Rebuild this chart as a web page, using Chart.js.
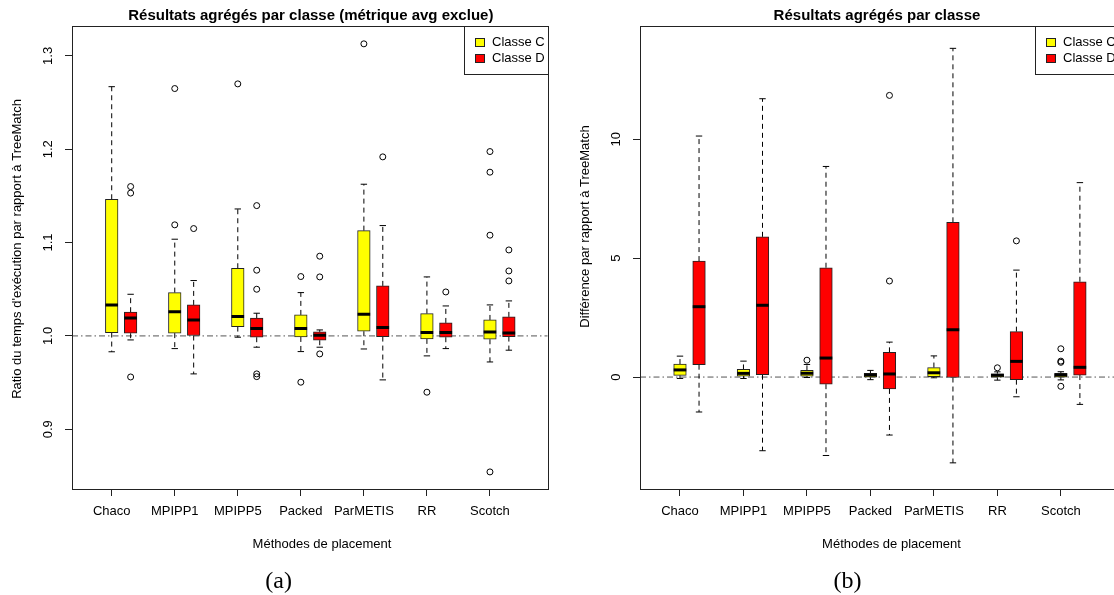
<!DOCTYPE html>
<html>
<head>
<meta charset="utf-8">
<script src="https://cdn.jsdelivr.net/npm/chart.js@4.4.0/dist/chart.umd.min.js"></script>
<style>
  body { margin: 0; background: #fff; width: 1114px; height: 595px; overflow: hidden; position: relative; }
  canvas { position: absolute; top: 0; }
  #ratio { left: 0; }
  #diff { left: 557px; }
</style>
</head>
<body>
<canvas id="ratio" width="557" height="595"></canvas>
<canvas id="diff" width="600" height="595"></canvas>
<script>
const methods = ['Chaco', 'MPIPP1', 'MPIPP5', 'Packed', 'ParMETIS', 'RR', 'Scotch']
const classes = ['Classe C', 'Classe D']
const classColors = ['#ffff00', '#ff0000']

// each row: lower whisker, Q1, median, Q3, upper whisker
const ratioC = [
  [0.983, 1.0036, 1.0332, 1.1464, 1.267],
  [0.9864, 1.003, 1.026, 1.0464, 1.1036],
  [0.9986, 1.010, 1.0207, 1.0725, 1.136],
  [0.9832, 0.9989, 1.0079, 1.0225, 1.0464],
  [0.986, 1.005, 1.0232, 1.1128, 1.1625],
  [0.9786, 0.9968, 1.0036, 1.0239, 1.0632],
  [0.9721, 0.9964, 1.0043, 1.0171, 1.0332]
]
const ratioD = [
  [0.9957, 1.0029, 1.0193, 1.0254, 1.0446],
  [0.9593, 1.0004, 1.0171, 1.0332, 1.0593],
  [0.9879, 0.9986, 1.0079, 1.019, 1.0243],
  [0.9879, 0.9954, 1.0007, 1.0043, 1.0064],
  [0.9529, 0.9993, 1.0089, 1.0536, 1.1182],
  [0.9864, 0.9986, 1.0036, 1.0139, 1.0321],
  [0.9847, 0.9993, 1.0032, 1.0204, 1.0375]
]
const ratioOutC = [[], [1.265, 1.119], [1.270], [1.0636, 0.9504], [1.3129], [0.9397], [1.1975, 1.1754, 1.1079, 0.8543]]
const ratioOutD = [[1.160, 1.153, 0.956], [1.115], [1.1396, 1.0704, 1.050, 0.9593, 0.9564], [1.0854, 1.0632, 0.9807], [1.1918], [1.0471], [1.0921, 1.0696, 1.0589]]
const ratioTicks = [0.9, 1.0, 1.1, 1.2, 1.3]
const ratioTickLabels = ['0.9', '1.0', '1.1', '1.2', '1.3']
const ratioRef = 1

const diffC = [
  [-0.06, 0.07, 0.30, 0.547, 0.88],
  [-0.06, 0.04, 0.155, 0.32, 0.67],
  [-0.02, 0.035, 0.16, 0.28, 0.53],
  [-0.11, -0.01, 0.084, 0.155, 0.28],
  [-0.03, 0.02, 0.18, 0.40, 0.89],
  [-0.13, -0.01, 0.075, 0.14, 0.22],
  [-0.12, -0.01, 0.084, 0.155, 0.224]
]
const diffD = [
  [-1.47, 0.52, 2.96, 4.88, 10.14],
  [-3.10, 0.10, 3.02, 5.90, 11.71],
  [-3.30, -0.30, 0.80, 4.60, 8.86],
  [-2.44, -0.50, 0.13, 1.04, 1.47],
  [-3.61, -0.02, 1.99, 6.51, 13.83],
  [-0.83, -0.11, 0.66, 1.91, 4.50],
  [-1.15, 0.084, 0.41, 4.01, 8.18]
]
const diffOutC = [[], [], [0.71], [], [], [0.39], [1.19, 0.67, 0.62, -0.39]]
const diffOutD = [[], [], [], [11.85, 4.04], [], [5.73], []]
const diffTicks = [0, 5, 10]
const diffTickLabels = ['0', '5', '10']
const diffRef = 0

const xMin = 0.37
const xMax = 7.916

Chart.defaults.font.family = '"Liberation Sans", Arial, sans-serif'
Chart.defaults.font.size = 13
Chart.defaults.color = '#000'

function boxDatasets (stats, outliers, shift, color) {
  const whiskers = []
  const caps = []
  const boxes = []
  const medians = []
  const outs = []
  stats.forEach((s, i) => {
    const x = i + 1 + shift
    whiskers.push({ x, y: s[1] }, { x, y: s[0] }, { x, y: null }, { x, y: s[3] }, { x, y: s[4] }, { x, y: null })
    caps.push({ x, y: s[0] }, { x, y: s[4] })
    boxes.push({ x, y: [s[1], s[3]] })
    medians.push({ x, y: s[2] })
    outliers[i].forEach(v => outs.push({ x, y: v }))
  })
  return [
    { type: 'line', data: whiskers, borderColor: '#000', borderWidth: 1, borderDash: [5, 4], pointRadius: 0, order: 4 },
    { type: 'scatter', data: caps, pointStyle: 'line', pointRadius: 3.2, pointBorderWidth: 1, pointBorderColor: '#000', borderColor: '#000', order: 3 },
    { type: 'bar', data: boxes, backgroundColor: color, borderColor: '#222', borderWidth: 1, borderSkipped: false, barThickness: 12.6, grouped: false, order: 2 },
    { type: 'scatter', data: medians, pointStyle: 'line', pointRadius: 6.3, pointBorderWidth: 3, pointBorderColor: '#000', borderColor: '#000', order: 1 },
    { type: 'scatter', data: outs, pointStyle: 'circle', pointRadius: 3, pointBorderWidth: 1, pointBorderColor: '#000', pointBackgroundColor: 'rgba(0,0,0,0)', borderColor: '#000', order: 0 }
  ]
}

const panelPlugin = {
  id: 'panel',
  afterDraw (chart, args, o) {
    const { ctx, chartArea: a } = chart
    const yScale = chart.scales.y
    const left = Math.round(a.left)
    const right = Math.round(a.right)
    const top = Math.round(a.top)
    const bottom = Math.round(a.bottom)
    ctx.save()
    ctx.strokeStyle = '#222'
    ctx.lineWidth = 1
    ctx.strokeRect(left + 0.5, top + 0.5, right - left, bottom - top)

    ctx.fillStyle = '#000'
    ctx.textAlign = 'center'
    ctx.textBaseline = 'middle'
    ctx.font = 'bold 15px "Liberation Sans"'
    ctx.fillText(o.title, o.titleX, 15.5)

    ctx.font = '13px "Liberation Sans"'
    ctx.fillText('Méthodes de placement', (left + right) / 2 + 12, 544)

    o.tickValues.forEach((v, i) => {
      ctx.save()
      ctx.translate(left - 23.5, yScale.getPixelForValue(v))
      ctx.rotate(-Math.PI / 2)
      ctx.fillText(o.tickLabels[i], 0, 0)
      ctx.restore()
    })
    ctx.save()
    ctx.translate(left - 54.5, o.yTitleY)
    ctx.rotate(-Math.PI / 2)
    ctx.fillText(o.yTitle, 0, 0)
    ctx.restore()

    // legend box, top right of the plot
    const lx = right - 84
    ctx.strokeRect(lx + 0.5, top + 0.5, 84, 48)
    classes.forEach((c, i) => {
      const cy = top + 16.5 + i * 16
      ctx.fillStyle = classColors[i]
      ctx.fillRect(lx + 11.5, cy - 4, 9, 8)
      ctx.strokeRect(lx + 11.5, cy - 4, 9, 8)
      ctx.fillStyle = '#000'
      ctx.textAlign = 'left'
      ctx.fillText(c, lx + 28, cy)
    })

    ctx.font = '24px "Liberation Serif", serif'
    ctx.textAlign = 'center'
    ctx.textBaseline = 'alphabetic'
    ctx.fillText(o.caption, o.captionX, 588)
    ctx.restore()
  }
}

function makeChart (id, c, d, outC, outD, ref, yMin, yMax, ticks, tickLabels, axisWidth, padRight, panel) {
  const datasets = [
    { type: 'line', data: [{ x: xMin, y: ref }, { x: xMax, y: ref }], borderColor: '#555', borderWidth: 1, borderDash: [6, 3, 1.5, 3], pointRadius: 0, order: 5 }
  ].concat(boxDatasets(c, outC, 0, classColors[0]), boxDatasets(d, outD, 0.3, classColors[1]))

  return new Chart(document.getElementById(id), {
    type: 'bar',
    data: { datasets },
    options: {
      responsive: false,
      animation: false,
      events: [],
      layout: { padding: { top: 26, right: padRight, left: 0, bottom: 0 } },
      plugins: {
        legend: { display: false },
        tooltip: { enabled: false },
        panel
      },
      scales: {
        x: {
          type: 'linear',
          min: xMin,
          max: xMax,
          offset: false,
          afterBuildTicks: s => { s.ticks = methods.map((m, i) => ({ value: i + 1 })) },
          afterFit: s => { s.height = 106 },
          grid: { offset: false, drawOnChartArea: false, drawTicks: true, tickLength: 7, color: '#222' },
          border: { display: false },
          ticks: { autoSkip: false, maxRotation: 0, padding: 8, callback: v => methods[Math.round(v) - 1] }
        },
        y: {
          type: 'linear',
          min: yMin,
          max: yMax,
          afterBuildTicks: s => { s.ticks = ticks.map(v => ({ value: v })) },
          afterFit: s => { s.width = axisWidth },
          grid: { drawOnChartArea: false, drawTicks: true, tickLength: 7, color: '#222' },
          border: { display: false },
          ticks: { display: false }
        }
      }
    },
    plugins: [panelPlugin]
  })
}

makeChart('ratio', ratioC, ratioD, ratioOutC, ratioOutD, ratioRef, 0.836, 1.332, ratioTicks, ratioTickLabels, 72, 8, {
  title: 'Résultats agrégés par classe (métrique avg exclue)',
  titleX: 310.8,
  yTitle: "Ratio du temps d'exécution par rapport à TreeMatch",
  yTitleY: 249,
  tickValues: ratioTicks,
  tickLabels: ratioTickLabels,
  caption: '(a)',
  captionX: 278.6
})

makeChart('diff', diffC, diffD, diffOutC, diffOutD, diffRef, -4.71, 14.77, diffTicks, diffTickLabels, 83, 38, {
  title: 'Résultats agrégés par classe',
  titleX: 320,
  yTitle: 'Différence par rapport à TreeMatch',
  yTitleY: 226.5,
  tickValues: diffTicks,
  tickLabels: diffTickLabels,
  caption: '(b)',
  captionX: 290.4
})
</script>
</body>
</html>
